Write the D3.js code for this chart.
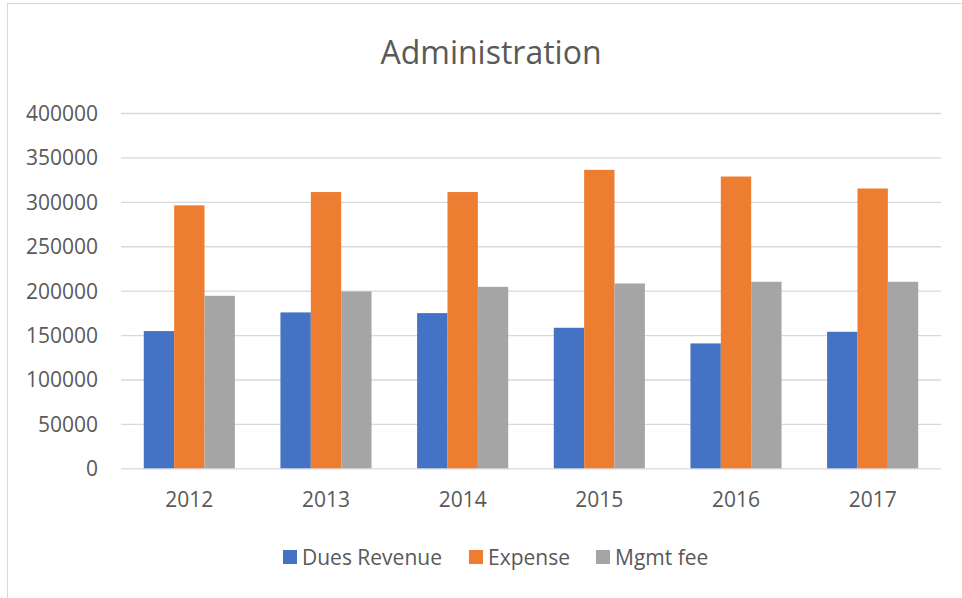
<!DOCTYPE html>
<html>
<head>
  <meta charset='utf-8'>
  <title>Administration</title>
  <script src='https://cdn.jsdelivr.net/npm/d3@7/dist/d3.min.js'></script>
  <style type='text/css'>
    body { margin: 0; background: #fff; }
    #chart { width: 962px; height: 598px; }
    text { font-family: 'Open Sans', sans-serif; fill: #595959; }
  </style>
</head>
<body>
  <div id='chart'></div>
  <script>
    // chart data
    const years = ['2012', '2013', '2014', '2015', '2016', '2017'];
    const seriesNames = ['Dues Revenue', 'Expense', 'Mgmt fee'];
    const duesRevenue = [154500, 175500, 174700, 158200, 140600, 153700];
    const expense = [296000, 311000, 311000, 336000, 328500, 315000];
    const mgmtFee = [194200, 199100, 204300, 208100, 210000, 210000];
    const yTicks = [0, 50000, 100000, 150000, 200000, 250000, 300000, 350000, 400000];
    const colors = ['#4472C4', '#ED7D31', '#A5A5A5'];

    const seriesValues = [duesRevenue, expense, mgmtFee];
    const rows = years.map((year, i) => ({
        year: year,
        values: seriesNames.map((name, j) => ({ name: name, value: seriesValues[j][i], idx: j }))
    }));

    const svg = d3.select('#chart').append('svg')
        .attr('width', 962)
        .attr('height', 598);

    // outer chart border
    svg.append('rect')
        .attr('x', 7.5).attr('y', 3.5)
        .attr('width', 962).attr('height', 600)
        .attr('fill', 'none')
        .attr('stroke', '#d9d9d9')
        .attr('stroke-width', 1);

    const margin = { top: 113, right: 21, bottom: 130, left: 121 };
    const width = 962 - margin.left - margin.right;
    const height = 598 - margin.top - margin.bottom + 0.3;
    const g = svg.append('g')
        .attr('transform', `translate(${margin.left}, ${margin.top})`);

    const x = d3.scaleBand()
        .domain(years)
        .range([0, width])
        .paddingInner(1 / 3)
        .paddingOuter(1 / 6);
    const xInner = d3.scaleBand()
        .domain(d3.range(seriesNames.length))
        .range([0, x.bandwidth()]);
    const y = d3.scaleLinear()
        .domain([0, 400000])
        .range([height, 0]);

    // gridlines
    g.append('g')
        .attr('class', 'grid')
        .call(d3.axisLeft(y).tickValues(yTicks).tickSize(-width).tickFormat(''))
        .call(s => s.select('.domain').remove())
        .call(s => s.selectAll('line')
            .attr('stroke', '#d9d9d9')
            .attr('stroke-width', 1.3));

    // y tick labels
    g.append('g')
        .attr('class', 'axis axis-y')
        .call(d3.axisLeft(y).tickValues(yTicks).tickSize(0).tickPadding(23).tickFormat(d3.format('d')))
        .call(s => s.select('.domain').remove())
        .call(s => s.selectAll('text')
            .attr('dy', '0.35em')
            .style('font-size', '21px')
            .attr('fill', '#595959'));

    // bars
    const groups = g.selectAll('.year')
        .data(rows)
        .enter().append('g')
        .attr('class', 'year')
        .attr('transform', d => `translate(${x(d.year)}, 0)`);
    groups.selectAll('rect')
        .data(d => d.values)
        .enter().append('rect')
        .attr('x', d => xInner(d.idx))
        .attr('width', xInner.bandwidth())
        .attr('y', d => y(d.value))
        .attr('height', d => y(0) - y(d.value))
        .attr('fill', d => colors[d.idx]);

    // x tick labels
    g.append('g')
        .attr('class', 'axis axis-x')
        .attr('transform', `translate(0, ${height})`)
        .call(d3.axisBottom(x).tickSize(0).tickPadding(24))
        .call(s => s.select('.domain').remove())
        .call(s => s.selectAll('text')
            .style('font-size', '21px')
            .attr('fill', '#595959'));

    // title
    svg.append('text')
        .attr('x', 491)
        .attr('y', 64)
        .attr('text-anchor', 'middle')
        .style('font-size', '32px')
        .text('Administration');

    // legend
    const legendX = [283, 469, 596];
    const legend = svg.append('g').attr('class', 'legend');
    const items = legend.selectAll('g')
        .data(seriesNames)
        .enter().append('g')
        .attr('transform', (d, i) => `translate(${legendX[i]}, 550)`);
    items.append('rect')
        .attr('width', 14).attr('height', 14)
        .attr('fill', (d, i) => colors[i]);
    items.append('text')
        .attr('x', 19)
        .attr('y', 15)
        .style('font-size', '21px')
        .text(d => d);
  </script>
</body>
</html>
